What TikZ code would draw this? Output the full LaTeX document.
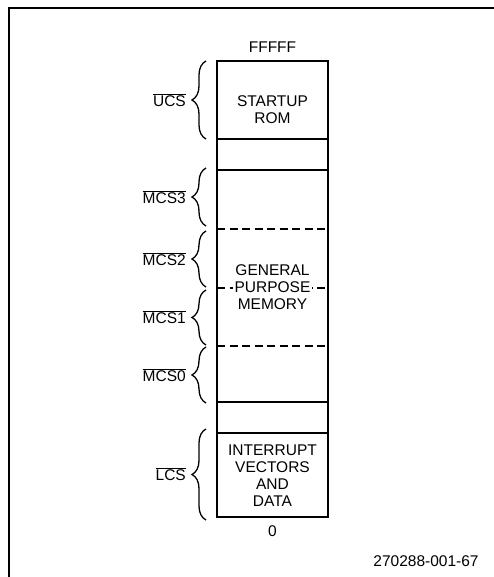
\documentclass[tikz,border=0pt]{standalone}
\usepackage{fontspec}
\setmainfont{Liberation Sans}
\usetikzlibrary{decorations.pathreplacing}

\begin{document}
\begin{tikzpicture}[x=1pt, y=-1pt,
  txt/.style={font=\fontsize{15.5}{17}\selectfont, align=center, inner sep=1pt},
  sel/.style={font=\fontsize{15.5}{17}\selectfont, anchor=east, inner sep=0pt},
  brc/.style={decorate, decoration={brace, amplitude=14pt}, line width=1.3pt}]
  \useasboundingbox (0,0) rectangle (494,577);
  % rahmen
  \draw[line width=2pt] (8.5,577) -- (8.5,8.5) -- (494,8.5);
  % speicherblock
  \draw[line width=2pt] (217,61) rectangle (328,517);
  \foreach \y in {139,170,402,433}
    \draw[line width=2pt] (217,\y) -- (328,\y);
  \foreach \y in {229,288,346}
    \draw[line width=1.8pt, dash pattern=on 8pt off 4.5pt] (217,\y) -- (328,\y);
  % inhalt
  \node[txt] (rom) at (272.5,110) {STARTUP\\ROM};
  \node[txt, fill=white, inner xsep=2pt] (gpm) at (272.5,287) {GENERAL\\PURPOSE\\MEMORY};
  \node[txt] (ivd) at (272.5,476) {INTERRUPT\\VECTORS\\AND\\DATA};
  \node[txt] (hi) at (272.5,47) {FFFFF};
  \node[txt] (lo) at (272.5,531) {0};
  % chip selects
  \foreach \a/\b/\name in {61/139/UCS, 168/226/MCS3, 231/287/MCS2,
                           290/345/MCS1, 347/403/MCS0, 429/520/LCS} {
    \draw[brc] (206,\b) -- (206,\a);
    \node[sel] (l\name) at (186,{(\a+\b)/2}) {$\overline{\hbox{\name}}$};
  }
  \node[txt] (fig) at (426,561) {270288-001-67};
\end{tikzpicture}
\end{document}
